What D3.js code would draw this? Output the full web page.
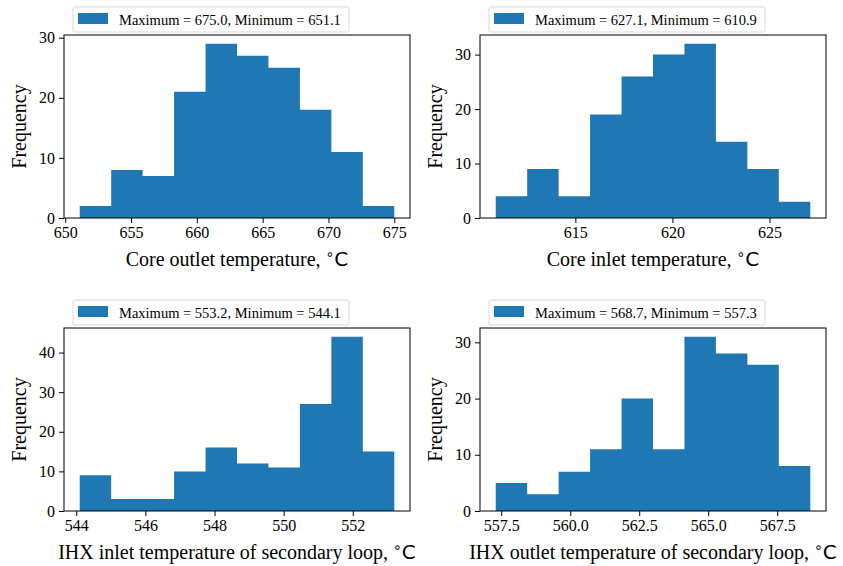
<!DOCTYPE html>
<html><head><meta charset="utf-8">
<script src="https://cdn.jsdelivr.net/npm/d3@7"></script>
<style>body{margin:0;background:#fff}svg{display:block}
.tick text{font-family:'Liberation Serif','Times New Roman',serif !important;font-size:16px !important;fill:#000}</style>
</head><body>
<script>
// ---- Data ----
const labels = ["Core outlet temperature, ", "Core inlet temperature, ", "IHX inlet temperature of secondary loop, ", "IHX outlet temperature of secondary loop, "];
const minima = [651.1, 610.9, 544.1, 557.3];
const maxima = [675.0, 627.1, 553.2, 568.7];
const countsCoreOutlet = [2, 8, 7, 21, 29, 27, 25, 18, 11, 2];
const countsCoreInlet = [4, 9, 4, 19, 26, 30, 32, 14, 9, 3];
const countsIhxInlet = [9, 3, 3, 10, 16, 12, 11, 27, 44, 15];
const countsIhxOutlet = [5, 3, 7, 11, 20, 11, 31, 28, 26, 8];
const xTicks = [[650, 655, 660, 665, 670, 675], [615, 620, 625], [544, 546, 548, 550, 552], [557.5, 560, 562.5, 565, 567.5]];
const xTickFmt = [".0f", ".0f", ".0f", ".1f"];
const yTicks = [[0, 10, 20, 30], [0, 10, 20, 30], [0, 10, 20, 30, 40], [0, 10, 20, 30]];
const allCounts = [countsCoreOutlet, countsCoreInlet, countsIhxInlet, countsIhxOutlet];

const W = 843, H = 566;
const svg = d3.select("body").append("svg").attr("width", W).attr("height", H);
const color = "#1f77b4";
const serif = "'Liberation Serif','Times New Roman',serif";

const panels = [
  {x0: 64, y0: 35}, {x0: 480, y0: 35}, {x0: 64, y0: 328}, {x0: 480, y0: 328}
];
const pw = 346, ph = 183;

panels.forEach((p, i) => {
  const counts = allCounts[i];
  const mn = minima[i], mx = maxima[i], r = mx - mn;
  const n = counts.length;
  const x = d3.scaleLinear().domain([mn - 0.05 * r, mx + 0.05 * r]).range([0, pw]);
  const ymax = d3.max(counts) * 1.05;
  const y = d3.scaleLinear().domain([0, ymax]).range([ph, 0]);
  const edge = d3.scaleLinear().domain([0, n]).range([mn, mx]);
  const g = svg.append("g").attr("transform", `translate(${p.x0},${p.y0})`);

  // histogram drawn as a single outline path so there are no seams between bars
  const pts = [[x(edge(0)), y(0)]];
  counts.forEach((d, k) => {
    pts.push([x(edge(k)), y(d)]);
    pts.push([x(edge(k + 1)), y(d)]);
  });
  pts.push([x(edge(n)), y(0)]);
  g.append("path").attr("d", d3.line()(pts) + "Z").attr("fill", color);

  const xa = g.append("g").attr("transform", `translate(0,${ph})`)
    .call(d3.axisBottom(x).tickValues(xTicks[i]).tickFormat(d3.format(xTickFmt[i])).tickSize(5).tickPadding(4));
  const ya = g.append("g")
    .call(d3.axisLeft(y).tickValues(yTicks[i]).tickFormat(d3.format("d")).tickSize(5).tickPadding(4));
  [xa, ya].forEach(a => {
    a.attr("font-family", serif).attr("font-size", 16);
    a.select(".domain").remove();
    a.selectAll("text").style("font-family", serif).style("font-size", "16px").attr("fill", "#000");
    a.selectAll("line").attr("stroke", "#000").attr("stroke-width", 1);
  });
  g.append("rect").attr("width", pw).attr("height", ph)
    .attr("fill", "none").attr("stroke", "#000").attr("stroke-width", 1);

  // y label
  g.append("text").attr("transform", `translate(${-38},${ph / 2}) rotate(-90)`)
    .attr("text-anchor", "middle").attr("font-family", serif).attr("font-size", 20)
    .text("Frequency");

  // x label
  const xl = g.append("text").attr("x", pw / 2).attr("y", ph + 48)
    .attr("text-anchor", "middle").attr("font-family", serif).attr("font-size", 20);
  xl.append("tspan").text(labels[i]);
  xl.append("tspan").attr("font-family", "'DejaVu Sans',sans-serif").attr("font-size", 14).attr("dy", -7).text("\u2218");
  xl.append("tspan").attr("font-family", "'DejaVu Sans',sans-serif").attr("font-size", 20).attr("dy", 7).text("C");

  // legend
  const lg = g.append("g").attr("transform", `translate(${9},${-28})`);
  lg.append("rect").attr("width", 276).attr("height", 25).attr("rx", 2)
    .attr("fill", "#fff").attr("stroke", "#d9d9d9").attr("stroke-width", 1);
  lg.append("rect").attr("x", 5).attr("y", 6).attr("width", 30).attr("height", 11).attr("fill", color);
  lg.append("text").attr("x", 46).attr("y", 17.5).attr("font-family", serif).attr("font-size", 14.5)
    .text(`Maximum = ${d3.format(".1f")(mx)}, Minimum = ${d3.format(".1f")(mn)}`);
});
</script>
</body></html>
